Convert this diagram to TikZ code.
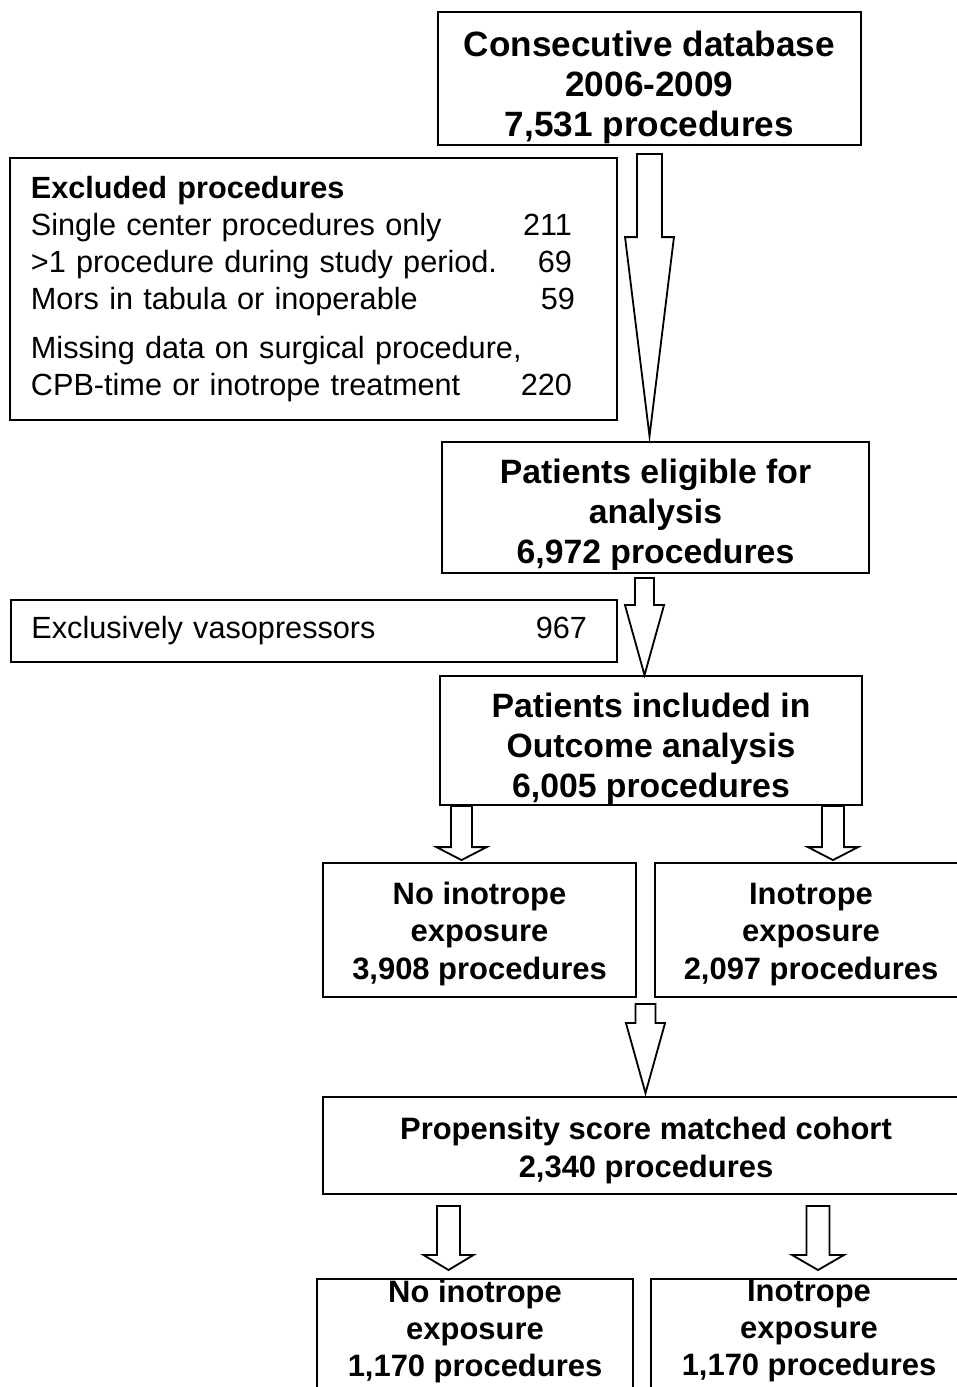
\documentclass[tikz,border=0pt]{standalone}
\usepackage{fontspec}
\setmainfont{Liberation Sans}
\usetikzlibrary{calc}
\newcommand{\rnum}[2][6mm]{\hfill #2\hspace*{#1}\mbox{}}

\begin{document}
\begin{tikzpicture}[x=0.025cm,y=-0.025cm,
  box/.style={draw, line width=1.3pt, align=center, inner sep=0pt, font=\bfseries\fontsize{22}{26.6}\selectfont},
  listbox/.style={draw, line width=1.3pt, align=left, inner sep=0pt, text width=14.125cm, font=\fontsize{21.8}{26.3}\selectfont},
  blockarrow/.style n args={3}{line width=1.3pt, to path={let \p1=(\tikztostart), \p2=(\tikztotarget) in
    (\x1-#1,\y1) -- (\x1+#1,\y1) -- (\x1+#1,\y2+#3) -- (\x1+#2,\y2+#3) -- (\x1,\y2) -- (\x1-#2,\y2+#3) -- (\x1-#1,\y2+#3) -- cycle}}]
\useasboundingbox (0,0) rectangle (957,1387);

\node (db) at (649.5,78.5) [box, font=\bfseries\fontsize{25}{28.45}\selectfont, text height=87.9pt, minimum width=10.575cm, minimum height=3.325cm] {Consecutive database\\2006-2009\\7,531 procedures};
\node (excl) at (313.5,289) [listbox, minimum width=15.175cm, minimum height=6.55cm] {\textbf{Excluded procedures}\\
  Single center procedures only\rnum{211}\\
  >1 procedure during study period.\rnum{69}\\
  Mors in tabula or inoperable\rnum[5.3mm]{59}\\[9pt]
  Missing data on surgical procedure,\\
  CPB-time or inotrope treatment\rnum{220}};
\node (elig) at (655.5,507.5) [box, font=\bfseries\fontsize{24}{28.45}\selectfont, text height=84.1pt, minimum width=10.675cm, minimum height=3.275cm] {Patients eligible for\\analysis\\6,972 procedures};
\node (vaso) at (314,631) [listbox, minimum width=15.15cm, minimum height=1.55cm] {Exclusively vasopressors\rnum[2.4mm]{967}};
\node (incl) at (651,740.5) [box, font=\bfseries\fontsize{24}{28.45}\selectfont, text height=85.5pt, minimum width=10.55cm, minimum height=3.225cm] {Patients included in\\Outcome analysis\\6,005 procedures};
\node (noino) at (479.5,930) [box, text height=74.6pt, minimum width=7.825cm, minimum height=3.35cm] {No inotrope\\exposure\\3,908 procedures};
\node (ino) at (811,930) [box, text height=74.6pt, minimum width=7.8cm, minimum height=3.35cm] {Inotrope\\exposure\\2,097 procedures};
\node (prop) at (646,1145.5) [box, text height=49.5pt, minimum width=16.15cm, minimum height=2.425cm] {Propensity score matched cohort\\2,340 procedures};
% matched groups, cut off at the lower edge
\node (noinoB) at (475,1278) [box, anchor=north, inner ysep=0.02cm, text depth=1cm, minimum width=7.9cm] {No inotrope\\exposure\\1,170 procedures};
\node (inoB) at (809,1278) [box, anchor=north, inner ysep=0.02cm, text depth=1cm, minimum width=7.9cm] {Inotrope\\exposure\\1,170 procedures};

\draw[blockarrow={8.9pt}{17.4pt}{141.5pt}] ($(db.south)+(0,8)$) to ($(elig.north)+(0,-5)$);
\draw[blockarrow={6.8pt}{13.9pt}{49.8pt}] ($(elig.south)+(-11,4)$) to (incl.north);
\draw[blockarrow={7.5pt}{17.8pt}{9.2pt}] ($(incl.south west)+(22.5,0)$) to ($(noino.north)+(0,-2)$);
\draw[blockarrow={7.8pt}{17.8pt}{9.2pt}] ($(incl.south east)+(-30,0)$) to ($(ino.north)+(0,-2)$);
\draw[blockarrow={7.1pt}{13.9pt}{49.8pt}] ($(noino.south east)!.5!(ino.south west)+(0,6)$) to ($(prop.north)+(0,-3)$);
\draw[blockarrow={8.2pt}{17.8pt}{10.7pt}] ($(prop.south west)+(126.5,11)$) to ($(noinoB.north)+(0,-8)$);
\draw[blockarrow={8.2pt}{18.5pt}{10.7pt}] ($(prop.south west)+(496,11)$) to ($(inoB.north)+(0,-8)$);
\end{tikzpicture}
\end{document}
